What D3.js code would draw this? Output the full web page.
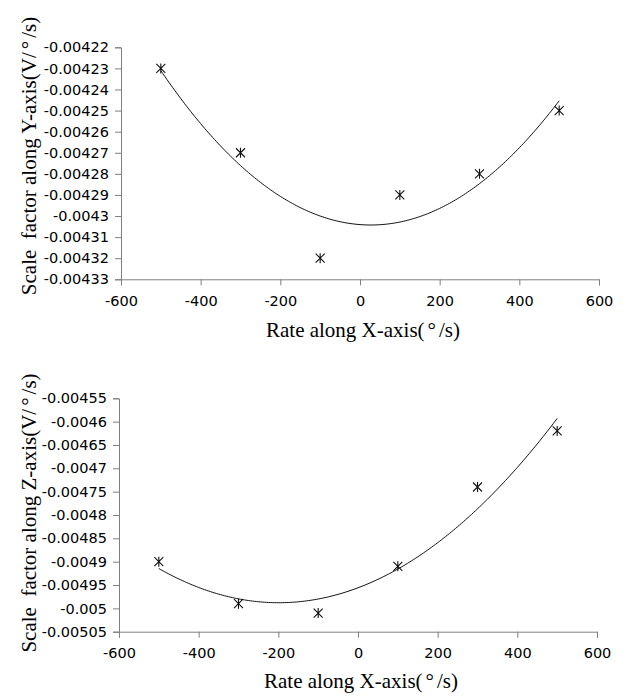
<!DOCTYPE html>
<html>
<head>
<meta charset="utf-8">
<script src="https://cdn.jsdelivr.net/npm/d3@7/dist/d3.min.js"></script>
<style>
  html, body { margin: 0; padding: 0; background: #fff; }
  svg { display: block; }
  .tick text { font-family: "DejaVu Sans", sans-serif; font-size: 14.5px; fill: #000; }
  .title { font-family: "Liberation Serif", "Times New Roman", serif; font-size: 21px; fill: #000; white-space: pre; }
</style>
</head>
<body>
<svg id="chart" width="639" height="697"></svg>
<script>
// Rates applied along the X axis (°/s)
const rates = [-500, -300, -100, 100, 300, 500];
// Measured scale factors (V/°/s)
const scaleY = [-0.00423, -0.00427, -0.00432, -0.00429, -0.00428, -0.00425];
const scaleZ = [-0.0049, -0.00499, -0.00501, -0.00491, -0.00474, -0.00462];
// Axis ticks
const xTicks = [-600, -400, -200, 0, 200, 400, 600];
const yTicksTop = [-0.00422, -0.00423, -0.00424, -0.00425, -0.00426, -0.00427, -0.00428, -0.00429, -0.0043, -0.00431, -0.00432, -0.00433];
const yTicksBottom = [-0.00455, -0.0046, -0.00465, -0.0047, -0.00475, -0.0048, -0.00485, -0.0049, -0.00495, -0.005, -0.00505];

const svg = d3.select("#chart");

// Least-squares quadratic y = a + b x + c x^2 (trend line)
function quadFit(xs, ys) {
  const n = xs.length;
  let s = [0, 0, 0, 0, 0], t = [0, 0, 0];
  for (let i = 0; i < n; i++) {
    const x = xs[i] / 100, y = ys[i];
    for (let k = 0; k <= 4; k++) s[k] += Math.pow(x, k);
    for (let k = 0; k <= 2; k++) t[k] += y * Math.pow(x, k);
  }
  const M = [[s[0], s[1], s[2], t[0]], [s[1], s[2], s[3], t[1]], [s[2], s[3], s[4], t[2]]];
  for (let i = 0; i < 3; i++) {
    let p = i;
    for (let r = i + 1; r < 3; r++) if (Math.abs(M[r][i]) > Math.abs(M[p][i])) p = r;
    [M[i], M[p]] = [M[p], M[i]];
    for (let r = 0; r < 3; r++) {
      if (r === i) continue;
      const f = M[r][i] / M[i][i];
      for (let c = i; c < 4; c++) M[r][c] -= f * M[i][c];
    }
  }
  const a = M[0][3] / M[0][0], b = M[1][3] / M[1][1], c = M[2][3] / M[2][2];
  return x => a + b * (x / 100) + c * (x / 100) * (x / 100);
}

// Writes a title, spacing out the degree sign
function writeTitle(sel, str) {
  const parts = str.split("°");
  sel.append("tspan").text(parts[0]);
  sel.append("tspan").attr("dx", 3).text("°");
  sel.append("tspan").attr("dx", 3).text(parts[1]);
}

const fmt = d => String(+d.toPrecision(6));

function panel(opts) {
  const { left, right, top, bottom, yDomain, yTicks, values, yTitle, yTitleX, yTitleY, xTitleY } = opts;
  const x = d3.scaleLinear().domain([-600, 600]).range([left, right]);
  const y = d3.scaleLinear().domain(yDomain).range([bottom, top]);
  const g = svg.append("g");

  const yAxis = g.append("g").attr("transform", `translate(${left},0)`)
    .call(d3.axisLeft(y).tickValues(yTicks).tickSizeOuter(0).tickSize(6).tickPadding(6)
      .tickFormat(fmt));
  const xAxis = g.append("g").attr("transform", `translate(0,${bottom})`)
    .call(d3.axisBottom(x).tickValues(xTicks).tickSizeOuter(0).tickSize(6).tickPadding(10)
      .tickFormat(d => String(d)));
  [xAxis, yAxis].forEach(ax => {
    ax.select(".domain").attr("stroke", "#7f7f7f");
    ax.selectAll(".tick line").attr("stroke", "#7f7f7f");
  });

  // Trend line
  const f = quadFit(rates, values);
  const xs = d3.range(-500, 500.01, 5);
  g.append("path")
    .attr("d", d3.line().x(d => x(d)).y(d => y(f(d)))(xs))
    .attr("fill", "none").attr("stroke", "#111").attr("stroke-width", 1);

  // Star markers
  const r = 4.5;
  const pts = g.selectAll(".pt").data(rates.map((d, i) => [d, values[i]])).join("g")
    .attr("transform", d => `translate(${x(d[0])},${y(d[1])})`);
  pts.append("path")
    .attr("d", `M${-r},${-r}L${r},${r}M${-r},${r}L${r},${-r}M0,${-r - 0.5}L0,${r + 0.5}`)
    .attr("stroke", "#111").attr("stroke-width", 1.1).attr("fill", "none");

  g.append("text").attr("class", "title")
    .attr("x", (left + right) / 2 + 3).attr("y", xTitleY).attr("text-anchor", "middle")
    .call(writeTitle, "Rate along X-axis(°/s)");
  g.append("text").attr("class", "title")
    .attr("transform", `translate(${yTitleX},${yTitleY}) rotate(-90)`)
    .attr("text-anchor", "middle")
    .call(writeTitle, yTitle);
}

panel({
  left: 121, right: 599, top: 47.3, bottom: 279.3,
  yDomain: [-0.00433, -0.00422], yTicks: yTicksTop, values: scaleY,
  yTitle: "Scale  factor along Y-axis(V/°/s)", yTitleX: 36, yTitleY: 156, xTitleY: 337
});
panel({
  left: 119, right: 597, top: 398.3, bottom: 631.7,
  yDomain: [-0.00505, -0.00455], yTicks: yTicksBottom, values: scaleZ,
  yTitle: "Scale  factor along Z-axis(V/°/s)", yTitleX: 36, yTitleY: 513, xTitleY: 688
});
</script>
</body>
</html>
